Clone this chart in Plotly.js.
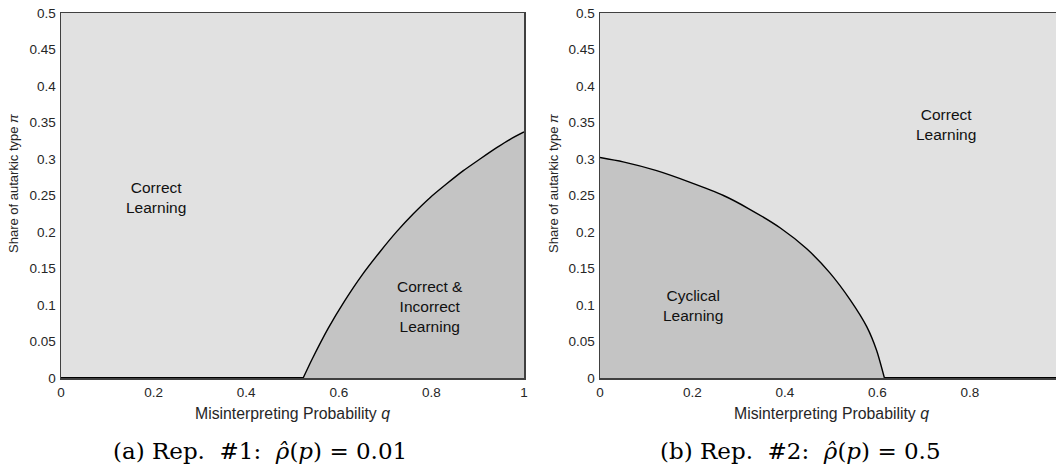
<!DOCTYPE html>
<html>
<head>
<meta charset="utf-8">
<script src="https://cdn.plot.ly/plotly-3.0.1.min.js"></script>
<style>
  html, body { margin: 0; padding: 0; background: #ffffff; overflow: hidden; }
  #chart { width: 1056px; height: 468px; }
</style>
</head>
<body>
<div id="chart"></div>
<script>
// Panel (a): boundary of the "Correct & Incorrect Learning" region
const qA  = [0.523, 0.5415, 0.577, 0.613, 0.649, 0.689, 0.725, 0.761, 0.797, 0.833, 0.869, 0.905, 0.941, 0.970, 1.0];
const piA = [0,     0.0247, 0.068, 0.106, 0.140, 0.173, 0.2005, 0.225, 0.247, 0.266, 0.284, 0.300, 0.3155, 0.327, 0.337];
const qAbase  = [0, 0.523];
const piAbase = [0, 0];

// Panel (b): boundary of the "Cyclical Learning" region
const qB  = [0,     0.050, 0.1225, 0.195, 0.267, 0.320,  0.39,   0.447, 0.497, 0.541, 0.577, 0.598, 0.615];
const piB = [0.302, 0.296, 0.284,  0.268, 0.250, 0.2325, 0.2055, 0.177, 0.144, 0.107, 0.070, 0.038, 0.0];
const qBbase  = [0.615, 1.0];
const piBbase = [0, 0];

const yTicks = [0, 0.05, 0.1, 0.15, 0.2, 0.25, 0.3, 0.35, 0.4, 0.45, 0.5];
const yTickText = ['0', '0.05', '0.1', '0.15', '0.2', '0.25', '0.3', '0.35', '0.4', '0.45', '0.5'];
const xTicks = [0, 0.2, 0.4, 0.6, 0.8, 1];
const xTickText = ['0', '0.2', '0.4', '0.6', '0.8', '1'];

const xTitle = 'Misinterpreting Probability <i>q</i>';
const yTitle = 'Share of autarkic type <i>π</i>';
const captionA = '(a) Rep.&nbsp; #1:&nbsp; <i>ρ̂</i>(<i>p</i>) = 0.01';
const captionB = '(b) Rep.&nbsp; #2:&nbsp; <i>ρ̂</i>(<i>p</i>) = 0.5';

const W = 1056, H = 468;
const px = v => v / W;
const py = v => 1 - v / H;

const LIGHT = '#e1e1e1';
const DARK = '#c4c4c4';
const AXC = '#404040';
const TXT = '#262626';
const SANS = 'Liberation Sans, Arial, sans-serif';
const SERIF = 'DejaVu Serif, Liberation Serif, serif';

const curve = (x, y, xa, ya) => ({
  x: x, y: y, xaxis: xa, yaxis: ya, type: 'scatter', mode: 'lines',
  line: {color: '#000000', width: 1.4, shape: 'spline', smoothing: 0.7},
  fill: 'tozeroy', fillcolor: DARK,
  hoverinfo: 'skip', showlegend: false
});
const base = (x, y, xa, ya) => ({
  x: x, y: y, xaxis: xa, yaxis: ya, type: 'scatter', mode: 'lines',
  line: {color: '#000000', width: 2}, hoverinfo: 'skip', showlegend: false
});

const traces = [
  curve(qA, piA, 'x', 'y'),
  base(qAbase, piAbase, 'x', 'y'),
  curve(qB, piB, 'x2', 'y2'),
  base(qBbase, piBbase, 'x2', 'y2')
];

const axisCommon = {
  showgrid: false, zeroline: false, showline: true, linecolor: AXC, linewidth: 1.5,
  ticks: 'outside', tickcolor: 'rgba(0,0,0,0)',
  tickfont: {family: SANS, size: 13.5, color: TXT}, fixedrange: true
};

const layout = {
  width: W, height: H,
  margin: {l: 0, r: 0, t: 0, b: 0},
  paper_bgcolor: '#ffffff',
  plot_bgcolor: LIGHT,
  showlegend: false,
  xaxis: Object.assign({}, axisCommon, {
    domain: [px(61), px(524)], range: [0, 1], anchor: 'y', mirror: true, ticklen: 1,
    tickmode: 'array', tickvals: xTicks, ticktext: xTickText
  }),
  yaxis: Object.assign({}, axisCommon, {
    domain: [py(378), py(13)], range: [0, 0.5], anchor: 'x', mirror: true, ticklen: 1,
    tickmode: 'array', tickvals: yTicks, ticktext: yTickText
  }),
  xaxis2: Object.assign({}, axisCommon, {
    domain: [px(600), 1], range: [0, 0.986], anchor: 'y2', mirror: true, ticklen: 1,
    tickmode: 'array', tickvals: xTicks, ticktext: xTickText
  }),
  yaxis2: Object.assign({}, axisCommon, {
    domain: [py(378), py(13)], range: [0, 0.5], anchor: 'x2', mirror: false, ticklen: 1,
    tickmode: 'array', tickvals: yTicks, ticktext: yTickText
  }),
  annotations: [
    // region labels (data coordinates)
    {xref: 'x', yref: 'y', x: 0.205, y: 0.2466, text: 'Correct<br>Learning', showarrow: false,
     xanchor: 'center', yanchor: 'middle', font: {family: SANS, size: 15.5, color: '#111111'}},
    {xref: 'x', yref: 'y', x: 0.797, y: 0.0986, text: 'Correct &amp;<br>Incorrect<br>Learning', showarrow: false,
     xanchor: 'center', yanchor: 'middle', font: {family: SANS, size: 15.5, color: '#111111'}},
    {xref: 'x2', yref: 'y2', x: 0.201, y: 0.0993, text: 'Cyclical<br>Learning', showarrow: false,
     xanchor: 'center', yanchor: 'middle', font: {family: SANS, size: 15.5, color: '#111111'}},
    {xref: 'x2', yref: 'y2', x: 0.748, y: 0.3466, text: 'Correct<br>Learning', showarrow: false,
     xanchor: 'center', yanchor: 'middle', font: {family: SANS, size: 15.5, color: '#111111'}},
    // axis titles
    {xref: 'paper', yref: 'paper', x: px(292), y: py(413.5), text: xTitle, showarrow: false,
     xanchor: 'center', yanchor: 'middle', font: {family: SANS, size: 15.8, color: TXT}},
    {xref: 'paper', yref: 'paper', x: px(831), y: py(413.5), text: xTitle, showarrow: false,
     xanchor: 'center', yanchor: 'middle', font: {family: SANS, size: 15.8, color: TXT}},
    {xref: 'paper', yref: 'paper', x: px(14), y: py(184), text: yTitle, showarrow: false, textangle: -90,
     xanchor: 'center', yanchor: 'middle', font: {family: SANS, size: 13, color: TXT}},
    {xref: 'paper', yref: 'paper', x: px(554), y: py(184), text: yTitle, showarrow: false, textangle: -90,
     xanchor: 'center', yanchor: 'middle', font: {family: SANS, size: 13, color: TXT}},
    // captions
    {xref: 'paper', yref: 'paper', x: px(260), y: py(451), text: captionA, showarrow: false,
     xanchor: 'center', yanchor: 'middle', font: {family: SERIF, size: 23, color: '#000000'}},
    {xref: 'paper', yref: 'paper', x: px(800), y: py(451), text: captionB, showarrow: false,
     xanchor: 'center', yanchor: 'middle', font: {family: SERIF, size: 23, color: '#000000'}}
  ]
};

Plotly.newPlot('chart', traces, layout, {staticPlot: true, displayModeBar: false});
</script>
</body>
</html>
